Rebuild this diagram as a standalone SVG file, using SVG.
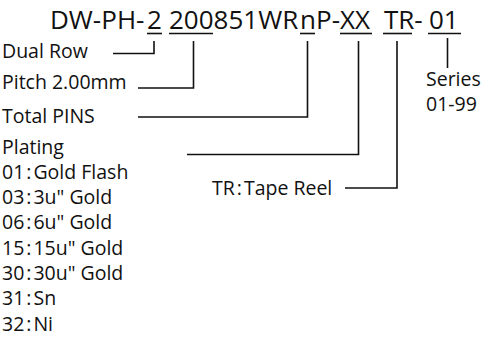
<svg xmlns="http://www.w3.org/2000/svg" width="494" height="338" viewBox="0 0 494 338">
<style>
text{font-family:"Open Sans","Noto Sans","DejaVu Sans",sans-serif;fill:#111}
.t{font-size:26px}
.s{font-size:19.5px}
.ln{fill:none;stroke:#111;stroke-width:1.6}
</style>
<rect width="494" height="338" fill="#fff"/>
<g id="title">
<text class="t" y="28.5"><tspan x="50">DW-PH-</tspan><tspan x="147">2</tspan><tspan x="169">200851WR</tspan><tspan x="300">n</tspan><tspan x="316">P-</tspan><tspan x="340">XX</tspan><tspan x="384">TR-</tspan><tspan x="429">01</tspan></text>
</g>
<g id="underlines" class="ln">
<line x1="147" y1="33.5" x2="162" y2="33.5"/>
<line x1="169" y1="33.5" x2="213" y2="33.5"/>
<line x1="300" y1="33.5" x2="315" y2="33.5"/>
<line x1="340" y1="33.5" x2="372" y2="33.5"/>
<line x1="383" y1="33.5" x2="412" y2="33.5"/>
<line x1="428" y1="33.5" x2="461" y2="33.5"/>
</g>
<g id="connectors" class="ln">
<polyline points="154,41 154,53.5 113,53.5"/>
<polyline points="193.5,41 193.5,88 138,88"/>
<polyline points="307.5,41 307.5,117 138,117"/>
<polyline points="358.5,41 358.5,154.5 187,154.5"/>
<polyline points="397,41 397,188 345,188"/>
<line x1="447.5" y1="38" x2="447.5" y2="68"/>
</g>
<g id="dual-row"><text class="s" x="2" y="58.3">Dual Row</text></g>
<g id="pitch"><text class="s" x="2" y="89">Pitch 2.00mm</text></g>
<g id="total-pins"><text class="s" x="2" y="123.3">Total PINS</text></g>
<g id="plating">
<text class="s" x="2" y="153.5">Plating</text>
<text class="s" x="2" y="178.8">01<tspan dx="2">:</tspan><tspan dx="2">Gold Flash</tspan></text>
<text class="s" x="2" y="204.1">03<tspan dx="2">:</tspan><tspan dx="2">3u" Gold</tspan></text>
<text class="s" x="2" y="229.4">06<tspan dx="2">:</tspan><tspan dx="2">6u" Gold</tspan></text>
<text class="s" x="2" y="254.7">15<tspan dx="2">:</tspan><tspan dx="2">15u" Gold</tspan></text>
<text class="s" x="2" y="280">30<tspan dx="2">:</tspan><tspan dx="2">30u" Gold</tspan></text>
<text class="s" x="2" y="305.3">31<tspan dx="2">:</tspan><tspan dx="2">Sn</tspan></text>
<text class="s" x="2" y="330.6">32<tspan dx="2">:</tspan><tspan dx="2">Ni</tspan></text>
</g>
<g id="tape-reel"><text class="s" x="212" y="195">TR<tspan dx="2">:</tspan><tspan dx="2">Tape Reel</tspan></text></g>
<g id="series">
<text class="s" x="426" y="86">Series</text>
<text class="s" x="426" y="110.5">01-99</text>
</g>
</svg>
